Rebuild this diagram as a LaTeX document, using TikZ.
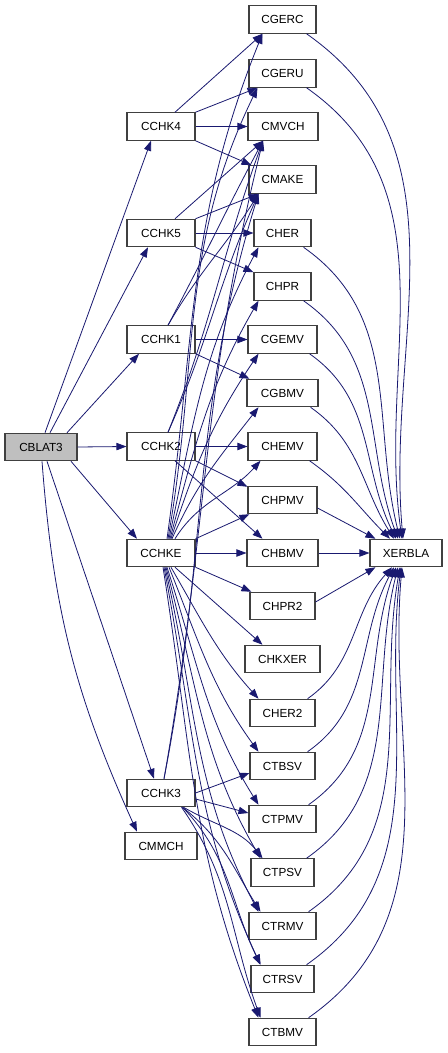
\documentclass[tikz,border=0pt]{standalone}
\usepackage{fontspec}
\setmainfont{Liberation Sans}
\usetikzlibrary{arrows.meta,calc}
\definecolor{edgec}{HTML}{191970}
\definecolor{rootfill}{HTML}{BFBFBF}
\definecolor{boxline}{HTML}{404040}
\begin{document}
\begin{tikzpicture}[x=0.75pt,y=0.75pt,
  box/.style={draw=boxline, line width=0.8pt, fill=white, minimum height=20.6pt, inner sep=0pt, font=\fontsize{8.8}{10}\selectfont},
  e/.style={draw=edgec, line width=0.6pt, -{Triangle[length=7.5pt,width=5.5pt]}},
]
\useasboundingbox[fill=white] (0,0) rectangle (448,-1053);
% left nodes
\node[box, minimum width=54pt, fill=rootfill] (cblat) at (41,-447) {CBLAT3};
\node[box, minimum width=51pt] (cchk4) at (161,-126.5) {CCHK4};
\node[box, minimum width=51pt] (cchk5) at (161,-233) {CCHK5};
\node[box, minimum width=51pt] (cchk1) at (161,-339.5) {CCHK1};
\node[box, minimum width=51pt] (cchk2) at (161,-446.5) {CCHK2};
\node[box, minimum width=51pt] (cchke) at (161,-553) {CCHKE};
\node[box, minimum width=51pt] (cchk3) at (161,-793) {CCHK3};
\node[box, minimum width=54pt] (cmmch) at (161,-846) {CMMCH};
% right column
\node[box, minimum width=50.25pt] (cgerc) at (282.5,-19.5) {CGERC};
\node[box, minimum width=50.25pt] (cgeru) at (282.5,-73.5) {CGERU};
\node[box, minimum width=52.5pt] (cmvch) at (283,-126.5) {CMVCH};
\node[box, minimum width=50.25pt] (cmake) at (282.5,-179.5) {CMAKE};
\node[box, minimum width=42.75pt] (cher) at (282.5,-233) {CHER};
\node[box, minimum width=42.75pt] (chpr) at (282.5,-286.5) {CHPR};
\node[box, minimum width=51.75pt] (cgemv) at (282.5,-339.5) {CGEMV};
\node[box, minimum width=53.25pt] (cgbmv) at (282.5,-393) {CGBMV};
\node[box, minimum width=51.75pt] (chemv) at (282.5,-446.5) {CHEMV};
\node[box, minimum width=51.75pt] (chpmv) at (282.5,-500) {CHPMV};
\node[box, minimum width=53.25pt] (chbmv) at (282.5,-553) {CHBMV};
\node[box, minimum width=48.75pt] (chpr2) at (282.5,-606) {CHPR2};
\node[box, minimum width=56.25pt] (chkxer) at (282.5,-659) {CHKXER};
\node[box, minimum width=48.75pt] (cher2) at (282.5,-713) {CHER2};
\node[box, minimum width=48.75pt] (ctbsv) at (282.5,-766) {CTBSV};
\node[box, minimum width=50.25pt] (ctpmv) at (282.5,-819) {CTPMV};
\node[box, minimum width=47.25pt] (ctpsv) at (282.5,-872.5) {CTPSV};
\node[box, minimum width=50.25pt] (ctrmv) at (282.5,-926) {CTRMV};
\node[box, minimum width=47.25pt] (ctrsv) at (282.5,-979) {CTRSV};
\node[box, minimum width=50.25pt] (ctbmv) at (282.5,-1032) {CTBMV};
\node[box, minimum width=54pt] (xerbla) at (406,-553) {XERBLA};

% CBLAT3 edges
\draw[e] ($(cblat.north)+(4,0)$) -- ($(cchk4.south)+(-10,0)$);
\draw[e] ($(cblat.north)+(9,0)$) -- ($(cchk5.south)+(-13,0)$);
\draw[e] ($(cblat.north)+(26,0)$) -- ($(cchk1.south)+(-22,0)$);
\draw[e] (cblat.east) -- (cchk2.west);
\draw[e] ($(cblat.south)+(30,0)$) -- ($(cchke.north)+(-24,0)$);
\draw[e] ($(cblat.south)+(6,0)$) -- ($(cchk3.north)+(-7,0)$);
\draw[e] ($(cblat.south)+(1,0)$) to[bend right=10] ($(cmmch.north)+(-24,0)$);

% CCHK4
\draw[e] ($(cchk4.north)+(14,0)$) -- ($(cgerc.south)+(-20,0)$);
\draw[e] (cchk4.north east) -- ($(cgeru.south)+(-25,0)$);
\draw[e] (cchk4.east) -- (cmvch.west);
\draw[e] (cchk4.south east) -- ($(cmake.north west)+(3,0)$);
% CCHK5
\draw[e] ($(cchk5.north)+(14,0)$) -- ($(cmvch.south)+(-20,0)$);
\draw[e] (cchk5.north east) -- ($(cmake.south)+(-24,0)$);
\draw[e] (cchk5.east) -- (cher.west);
\draw[e] (cchk5.south east) -- ($(chpr.north west)+(0,0)$);
% CCHK1
\draw[e] ($(cchk1.north)+(7,0)$) to[out=62,in=-118] ($(cmvch.south)+(-20,0)$);
\draw[e] ($(cchk1.north)+(7,0)$) to[out=60,in=-122] ($(cmake.south)+(-24,0)$);
\draw[e] (cchk1.east) -- (cgemv.west);
\draw[e] (cchk1.south east) -- ($(cgbmv.north west)+(3,0)$);
% CCHK2
\draw[e] ($(cchk2.north)+(7,0)$) to[out=68,in=-110] ($(cmvch.south)+(-20,0)$);
\draw[e] ($(cchk2.north)+(7,0)$) to[out=66,in=-114] ($(cmake.south)+(-24,0)$);
\draw[e] (cchk2.east) -- (chemv.west);
\draw[e] (cchk2.south east) -- ($(chpmv.north west)+(0,-1)$);
\draw[e] ($(cchk2.south)+(14,0)$) -- ($(chbmv.north)+(-20,0)$);
% CCHKE upward
\draw[e] ($(cchke.north)+(6,0)$) to[out=82,in=-112] ($(cgerc.south)+(-20,0)$);
\draw[e] ($(cchke.north)+(7,0)$) to[out=80,in=-116] ($(cgeru.south)+(-25,0)$);
\draw[e] ($(cchke.north)+(8,0)$) to[out=78,in=-118] ($(cher.south)+(-24,0)$);
\draw[e] ($(cchke.north)+(9,0)$) to[out=75,in=-120] ($(chpr.south)+(-24,0)$);
\draw[e] ($(cchke.north)+(10,0)$) to[out=72,in=-124] ($(cgemv.south)+(-24,0)$);
\draw[e] ($(cchke.north)+(11,0)$) to[out=66,in=-128] ($(cgbmv.south)+(-24,0)$);
\draw[e] ($(cchke.north)+(14,0)$) to[out=58,in=-132] ($(chemv.south)+(-22,0)$);
\draw[e] (cchke.north east) -- ($(chpmv.south west)+(2,0)$);
\draw[e] (cchke.east) -- (chbmv.west);
% CCHKE downward
\draw[e] (cchke.south east) -- ($(chpr2.north west)+(2,0)$);
\draw[e] ($(cchke.south)+(14,0)$) -- ($(chkxer.north)+(-20,0)$);
\draw[e] ($(cchke.south)+(10,0)$) to[out=-60,in=132] ($(cher2.north)+(-24,0)$);
\draw[e] ($(cchke.south)+(8,0)$) to[out=-68,in=126] ($(ctbsv.north)+(-24,0)$);
\draw[e] ($(cchke.south)+(6,0)$) to[out=-72,in=122] ($(ctpmv.north)+(-24,0)$);
\draw[e] ($(cchke.south)+(5,0)$) to[out=-75,in=120] ($(ctpsv.north)+(-22,0)$);
\draw[e] ($(cchke.south)+(4,0)$) to[out=-77,in=118] ($(ctrmv.north)+(-24,0)$);
\draw[e] ($(cchke.south)+(3,0)$) to[out=-79,in=115] ($(ctrsv.north)+(-22,0)$);
\draw[e] ($(cchke.south)+(2,0)$) to[out=-81,in=112] ($(ctbmv.north)+(-24,0)$);
% CCHK3
\draw[e] ($(cchk3.north)+(3,0)$) to[out=80,in=-104] ($(cmvch.south)+(-20,0)$);
\draw[e] ($(cchk3.north)+(3,0)$) to[out=79,in=-107] ($(cmake.south)+(-24,0)$);
\draw[e] (cchk3.east) -- ($(ctbsv.west)+(0,-7)$);
\draw[e] ($(cchk3.east)+(0,-6)$) -- ($(ctpmv.west)+(0,6)$);
\draw[e] ($(cchk3.south east)+(-12,0)$) to[out=-30,in=128] ($(ctpsv.north)+(-20,0)$);
\draw[e] ($(cchk3.south east)+(-13,0)$) to[out=-38,in=122] ($(ctrmv.north)+(-22,0)$);
\draw[e] ($(cchk3.south east)+(-13,0)$) to[out=-46,in=116] ($(ctrsv.north)+(-22,0)$);
\draw[e] ($(cchk3.south east)+(-14,0)$) to[out=-55,in=110] ($(ctbmv.north)+(-22,0)$);

% to XERBLA (top)
\draw[e] ($(cgerc.south east)+(-10,0)$) to[out=-35,in=95] ($(xerbla.north)+(-3,0)$);
\draw[e] ($(cgeru.south east)+(-10,0)$) to[out=-35,in=98] ($(xerbla.north)+(-4,0)$);
\draw[e] ($(cher.south east)+(-8,0)$) to[out=-35,in=104] ($(xerbla.north)+(-6,0)$);
\draw[e] ($(chpr.south east)+(-8,0)$) to[out=-35,in=110] ($(xerbla.north)+(-8,0)$);
\draw[e] ($(cgemv.south east)+(-8,0)$) to[out=-35,in=116] ($(xerbla.north)+(-10,0)$);
\draw[e] ($(cgbmv.south east)+(-8,0)$) to[out=-35,in=122] ($(xerbla.north)+(-12,0)$);
\draw[e] ($(chemv.south east)+(-8,0)$) to[out=-35,in=135] ($(xerbla.north)+(-16,0)$);
\draw[e] ($(chpmv.east)+(0,-8)$) -- ($(xerbla.north west)+(6,0)$);
\draw[e] (chbmv.east) -- (xerbla.west);
\draw[e] ($(chpr2.east)+(0,4)$) -- ($(xerbla.south west)+(6,0)$);
% to XERBLA (bottom)
\draw[e] ($(cher2.north east)+(-8,0)$) to[out=35,in=-132] ($(xerbla.south)+(-14,0)$);
\draw[e] ($(ctbsv.north east)+(-8,0)$) to[out=35,in=-118] ($(xerbla.south)+(-12,0)$);
\draw[e] ($(ctpmv.north east)+(-8,0)$) to[out=35,in=-110] ($(xerbla.south)+(-10,0)$);
\draw[e] ($(ctpsv.north east)+(-8,0)$) to[out=35,in=-104] ($(xerbla.south)+(-8,0)$);
\draw[e] ($(ctrmv.north east)+(-8,0)$) to[out=35,in=-100] ($(xerbla.south)+(-6,0)$);
\draw[e] ($(ctrsv.north east)+(-8,0)$) to[out=35,in=-97] ($(xerbla.south)+(-5,0)$);
\draw[e] ($(ctbmv.north east)+(-8,0)$) to[out=35,in=-95] ($(xerbla.south)+(-4,0)$);
\end{tikzpicture}
\end{document}
